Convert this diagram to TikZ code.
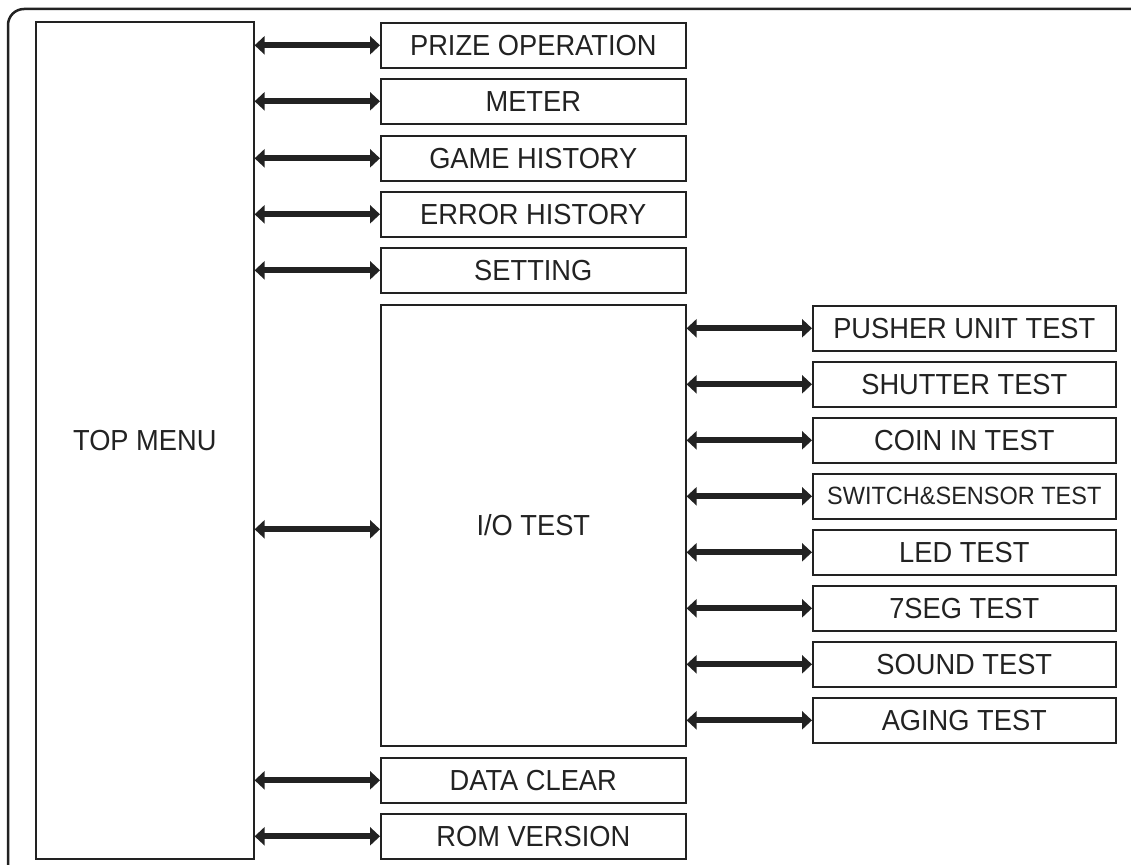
\documentclass[tikz,border=0pt]{standalone}
\usepackage{fontspec}
\setmainfont[FakeStretch=0.94]{Liberation Sans}
\usetikzlibrary{arrows.meta}
\definecolor{ink}{HTML}{222222}
\tikzset{
  menubox/.style={draw=ink, line width=1.6pt, rectangle, anchor=north west, inner sep=0pt,
    text=ink, font=\fontsize{29}{32}\selectfont},
  link/.style={draw=ink, line width=6pt, {Triangle[length=10pt,width=18pt]}-{Triangle[length=10pt,width=18pt]}},
  frame/.style={draw=ink, line width=2.5pt, rounded corners=16pt}
}
\begin{document}
\begin{tikzpicture}[x=1pt,y=-1pt]
\useasboundingbox (0,0) rectangle (1131,864);
\begin{scope}
\clip (0,0) rectangle (1131,864);
\draw[frame] (8,9) rectangle (1150,880);
\end{scope}
% main
\node[menubox, minimum width=218pt, minimum height=837pt] (top) at (35,21) {TOP MENU};
% left column
\node[menubox, minimum width=305pt, minimum height=45pt] (prize) at (380,22) {PRIZE OPERATION};
\node[menubox, minimum width=305pt, minimum height=45pt] (meter) at (380,78) {METER};
\node[menubox, minimum width=305pt, minimum height=45pt] (game) at (380,135) {GAME HISTORY};
\node[menubox, minimum width=305pt, minimum height=45pt] (error) at (380,191) {ERROR HISTORY};
\node[menubox, minimum width=305pt, minimum height=45pt] (setting) at (380,247) {SETTING};
\node[menubox, minimum width=305pt, minimum height=441pt] (io) at (380,304) {I/O TEST};
\node[menubox, minimum width=305pt, minimum height=45pt] (clear) at (380,757) {DATA CLEAR};
\node[menubox, minimum width=305pt, minimum height=45pt] (rom) at (380,813) {ROM VERSION};
% right column
\node[menubox, minimum width=303pt, minimum height=45pt] (pusher) at (812,305) {PUSHER UNIT TEST};
\node[menubox, minimum width=303pt, minimum height=45pt] (shutter) at (812,361) {SHUTTER TEST};
\node[menubox, minimum width=303pt, minimum height=45pt] (coin) at (812,417) {COIN IN TEST};
\node[menubox, minimum width=303pt, minimum height=45pt, font=\fontsize{25}{28}\selectfont] (switch) at (812,473) {SWITCH\&SENSOR TEST};
\node[menubox, minimum width=303pt, minimum height=45pt] (led) at (812,529) {LED TEST};
\node[menubox, minimum width=303pt, minimum height=45pt] (seg) at (812,585) {7SEG TEST};
\node[menubox, minimum width=303pt, minimum height=45pt] (sound) at (812,641) {SOUND TEST};
\node[menubox, minimum width=303pt, minimum height=45pt] (aging) at (812,697) {AGING TEST};
% connectors
\foreach \n in {prize,meter,game,error,setting,clear,rom}
  \draw[link] (top.east |- \n.west) -- (\n.west);
\draw[link] ([yshift=-4pt]top.east |- io.west) -- ([yshift=-4pt]io.west);
\foreach \n in {pusher,shutter,coin,switch,led,seg,sound,aging}
  \draw[link] (io.east |- \n.west) -- (\n.west);
\end{tikzpicture}
\end{document}
